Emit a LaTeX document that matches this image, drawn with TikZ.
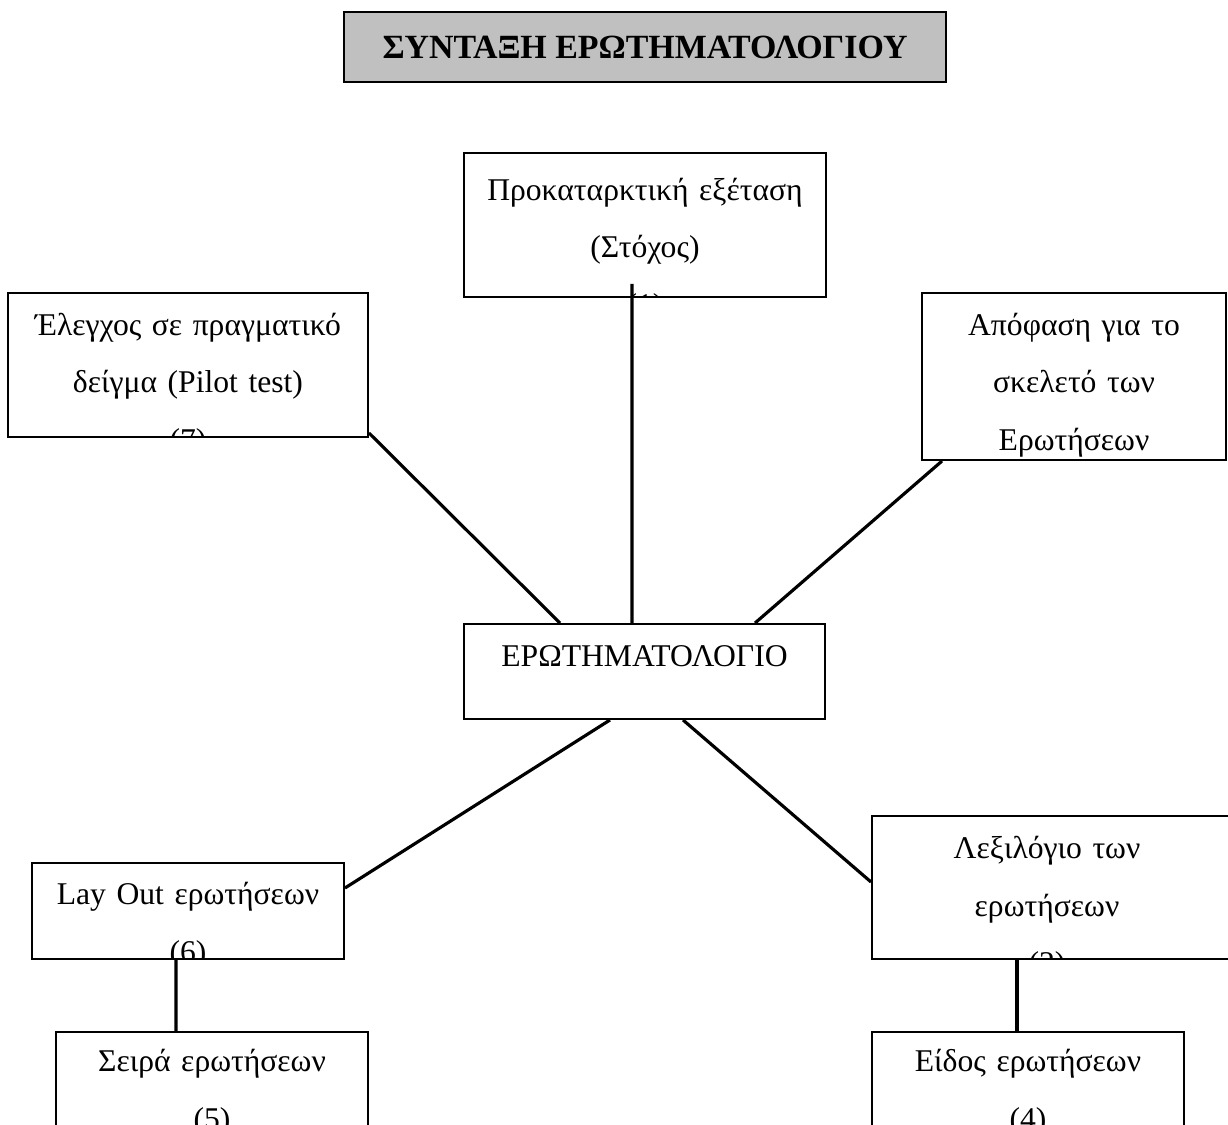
\documentclass[tikz,border=0pt]{standalone}
\usepackage{fontspec}
\setmainfont{Liberation Serif}
\definecolor{titlegray}{RGB}{192,192,192}
\begin{document}
\begin{tikzpicture}[
  box/.style={draw,line width=1.1pt,inner sep=0pt},
  txt/.style={anchor=base,align=center,text width=#1,inner sep=0pt,
    font=\fontsize{18}{33}\selectfont},
  link/.style={line width=1.8pt}]
\useasboundingbox (0,0) rectangle (24.56,-22.48);
\node[box,fill=titlegray,minimum width=12.04cm,minimum height=1.4cm,
  font=\bfseries\fontsize{19.3}{22}\selectfont] (title) at (12.9,-0.94) {ΣΥΝΤΑΞΗ ΕΡΩΤΗΜΑΤΟΛΟΓΙΟΥ};
\node[box,minimum width=7.24cm,minimum height=2.88cm,path picture={
  \node[txt=7.2cm] (t1) at ([yshift=-0.94cm]path picture bounding box.north)
    {Προκαταρκτική εξέταση\\(Στόχος)\\(1)};}] (p1) at (12.9,-4.5) {};
\node[box,minimum width=7.2cm,minimum height=2.88cm,path picture={
  \node[txt=7.2cm] (t7) at ([yshift=-0.84cm]path picture bounding box.north)
    {Έλεγχος σε πραγματικό\\δείγμα (Pilot test)\\(7)};}] (p7) at (3.76,-7.3) {};
\node[box,minimum width=6.08cm,minimum height=3.34cm,path picture={
  \node[txt=6cm] (t3) at ([yshift=-0.84cm]path picture bounding box.north)
    {Απόφαση για το\\σκελετό των\\Ερωτήσεων};}] (p3) at (21.48,-7.53) {};
\node[box,minimum width=7.22cm,minimum height=1.9cm,path picture={
  \node[txt=7.2cm] (tq) at ([yshift=-0.84cm]path picture bounding box.north)
    {ΕΡΩΤΗΜΑΤΟΛΟΓΙΟ};}] (q) at (12.89,-13.43) {};
\node[box,minimum width=6.24cm,minimum height=1.92cm,path picture={
  \node[txt=6.2cm] (t6) at ([yshift=-0.82cm]path picture bounding box.north)
    {Lay Out ερωτήσεων\\(6)};}] (p6) at (3.76,-18.22) {};
\node[box,minimum width=6.24cm,minimum height=1.92cm,path picture={
  \node[txt=6.2cm] (t5) at ([yshift=-0.78cm]path picture bounding box.north)
    {Σειρά ερωτήσεων\\(5)};}] (p5) at (4.24,-21.6) {};
\node[box,minimum width=7.24cm,minimum height=2.86cm,path picture={
  \node[txt=6.5cm] (t2) at ([yshift=-0.84cm,xshift=-0.12cm]path picture bounding box.north)
    {Λεξιλόγιο των\\ερωτήσεων\\(2)};}] (p2) at (21.06,-17.75) {};
\node[box,minimum width=6.24cm,minimum height=1.92cm,path picture={
  \node[txt=6.2cm] (t4) at ([yshift=-0.78cm]path picture bounding box.north)
    {Είδος ερωτήσεων\\(4)};}] (p4) at (20.56,-21.6) {};
\draw[link] ([xshift=-0.26cm,yshift=0.28cm]p1.south) -- ([xshift=-0.25cm]q.north);
\draw[link] ([yshift=0.1cm]p7.south east) -- ([xshift=-1.69cm]q.north);
\draw[link] ([xshift=0.42cm]p3.south west) -- ([xshift=2.21cm]q.north);
\draw[link] ([xshift=-0.69cm]q.south) -- ([yshift=0.46cm]p6.east);
\draw[link] ([xshift=0.77cm]q.south) -- ([yshift=0.11cm]p2.west);
\draw[link] ([xshift=-0.24cm]p6.south) -- ([xshift=-0.72cm]p5.north);
\draw[link] ([xshift=-0.72cm]p2.south) -- ([xshift=-0.22cm]p4.north);
\end{tikzpicture}
\end{document}
